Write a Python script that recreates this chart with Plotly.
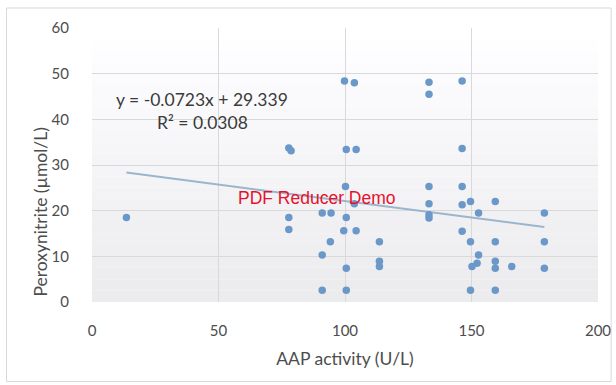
import plotly.graph_objects as go

# Data
aap_activity = [13.6, 77.8, 78.7, 77.8, 77.8, 91.0, 94.5, 94.2, 91.0, 91.0,
                99.8, 103.7, 100.5, 104.4, 100.2, 100.5, 99.5, 104.4, 100.5, 100.5,
                103.7, 113.6, 113.6, 113.6, 133.2, 133.2, 133.2, 133.2, 133.2, 133.2,
                146.3, 146.3, 146.3, 146.3, 149.6, 146.3, 152.8, 159.4, 149.6, 159.4,
                152.8, 150.2, 152.2, 159.4, 159.4, 165.9, 149.6, 159.4, 178.8, 178.8, 178.8]
peroxynitrite = [18.5, 33.7, 33.1, 18.5, 15.9, 19.5, 19.5, 13.2, 10.3, 2.6,
                 48.4, 48.0, 33.4, 33.4, 25.3, 18.5, 15.6, 15.6, 7.4, 2.6,
                 21.5, 13.2, 8.9, 7.8, 48.1, 45.5, 25.3, 21.5, 19.1, 18.4,
                 48.4, 33.6, 25.3, 21.3, 22.0, 15.5, 19.5, 22.0, 13.2, 13.2,
                 10.3, 7.8, 8.5, 8.9, 7.4, 7.8, 2.6, 2.6, 19.5, 13.2, 7.4]

slope = -0.0723
intercept = 29.339
trend_x = [min(aap_activity), max(aap_activity)]
trend_y = [slope * v + intercept for v in trend_x]

x_ticks = [0, 50, 100, 150, 200]
y_ticks = [0, 10, 20, 30, 40, 50, 60]

eq_text = "y = -0.0723x + 29.339"
r2_text = "R² = 0.0308"
watermark = "PDF Reducer Demo"
x_title = "AAP activity (U/L)"
y_title = "Peroxynitrite (µmol/L)"

font_fam = "Lato, 'Open Sans', sans-serif"
text_col = "#4d4d4d"

fig = go.Figure()

# gradient background bands inside plot area
n = 24
for i in range(n):
    g = int(255 - (255 - 236) * (i / (n - 1)))
    fig.add_shape(type="rect", xref="paper", yref="paper",
                  x0=0, x1=1, y0=1 - (i + 1) / n, y1=1 - i / n,
                  fillcolor=f"rgb({g},{g},{min(255, g + 2)})", line_width=0, layer="below")

# outer chart border
fig.add_shape(type="rect", xref="paper", yref="paper",
              x0=-0.169, x1=1.026, y0=-0.29, y1=1.073,
              line=dict(color="#d9d9d9", width=1), fillcolor="rgba(0,0,0,0)", layer="below")

fig.add_trace(go.Scatter(x=trend_x, y=trend_y, mode="lines",
                         line=dict(color="#9ab6cc", width=2), hoverinfo="skip"))
fig.add_trace(go.Scatter(x=aap_activity, y=peroxynitrite, mode="markers",
                         marker=dict(color="#6a99c9", size=7.5, line=dict(width=0))))

fig.add_annotation(x=43.5, y=44.4, text=eq_text, showarrow=False,
                   font=dict(family=font_fam, size=17.5, color="#3a3a3a"))
fig.add_annotation(x=43.5, y=39.2, text=r2_text, showarrow=False,
                   font=dict(family=font_fam, size=17.5, color="#3a3a3a"))
fig.add_annotation(x=89, y=22.8, text=watermark, showarrow=False,
                   font=dict(family="Arial, 'Liberation Sans', sans-serif", size=17.5, color="#e8112d"))

# y-axis title (placed as in the reference, lower than the plot centre)
fig.add_annotation(xref="paper", yref="paper", x=-0.101, y=0.33, text=y_title,
                   textangle=-90, showarrow=False, xanchor="center", yanchor="middle",
                   font=dict(family=font_fam, size=17.5, color=text_col))

fig.update_layout(
    width=616, height=385,
    margin=dict(l=92, r=18, t=28, b=83),
    paper_bgcolor="white", plot_bgcolor="rgba(0,0,0,0)",
    showlegend=False,
    font=dict(family=font_fam, size=15, color=text_col),
)
fig.update_xaxes(range=[0, 200], tickvals=x_ticks, showgrid=True, gridcolor="#d9d9d9",
                 gridwidth=1, zeroline=False, showline=False, ticks="",
                 ticklabelstandoff=18, automargin=False,
                 title=dict(text=x_title, font=dict(size=17.5, color=text_col), standoff=14))
fig.update_yaxes(range=[0, 60], tickvals=y_ticks, showgrid=True, gridcolor="#d9d9d9",
                 gridwidth=1, zeroline=False, showline=False,
                 ticks="outside", ticklen=19, tickcolor="rgba(0,0,0,0)", automargin=False)

fig.write_html("out.html")
